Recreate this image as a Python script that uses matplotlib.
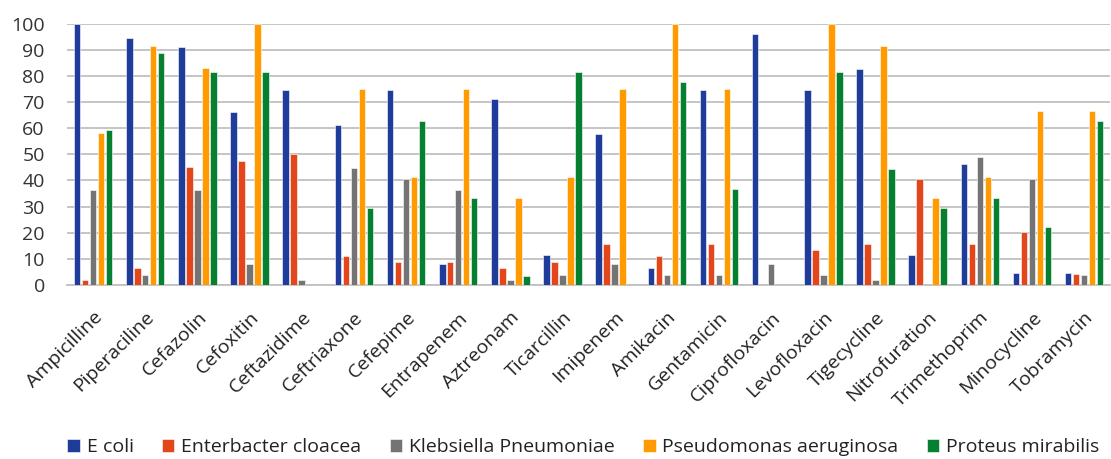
import matplotlib.pyplot as plt
import numpy as np

drugs = ["Ampicilline", "Piperaciline", "Cefazolin", "Cefoxitin", "Ceftazidime",
         "Ceftriaxone", "Cefepime", "Entrapenem", "Aztreonam", "Ticarcillin",
         "Imipenem", "Amikacin", "Gentamicin", "Ciprofloxacin", "Levofloxacin",
         "Tigecycline", "Nitrofuration", "Trimethoprim", "Minocycline", "Tobramycin"]

e_coli = [100, 94.5, 91.2, 66.2, 74.6, 61.3, 74.6, 7.9, 71.3, 11.5,
          58.0, 6.3, 74.6, 96.2, 74.6, 82.8, 11.5, 46.4, 4.6, 4.6]
enterobacter = [1.9, 6.5, 45.3, 47.4, 50.0, 11.0, 8.8, 8.8, 6.5, 8.8,
                15.6, 11.0, 15.6, 0, 13.4, 15.6, 40.6, 15.6, 20.2, 4.2]
klebsiella = [36.5, 3.7, 36.5, 8.1, 1.7, 44.6, 40.6, 36.5, 1.7, 3.7,
              7.9, 3.7, 3.7, 7.9, 3.7, 1.7, 0, 48.9, 40.6, 3.7]
pseudomonas = [58.3, 91.7, 83.2, 100, 0, 74.9, 41.4, 74.9, 33.2, 41.4,
               74.9, 100, 74.9, 0, 100, 91.7, 33.2, 41.4, 66.6, 66.6]
proteus = [59.2, 88.7, 81.4, 81.4, 0, 29.3, 62.7, 33.2, 3.5, 81.4,
           0, 77.6, 36.9, 0, 81.4, 44.3, 29.3, 33.2, 22.0, 62.7]

series = [
    ("E coli", e_coli, "#203C9A"),
    ("Enterbacter cloacea", enterobacter, "#E2461A"),
    ("Klebsiella Pneumoniae", klebsiella, "#747474"),
    ("Pseudomonas aeruginosa", pseudomonas, "#FF9A00"),
    ("Proteus mirabilis", proteus, "#048030"),
]

plt.rcParams["font.family"] = ["Open Sans", "DejaVu Sans"]

fig = plt.figure(figsize=(11.11, 4.59), dpi=100)
ax = fig.add_axes([0.0603, 0.3797, 0.939, 0.568])

x = np.arange(len(drugs))
step = 0.153
width = 0.125
for i, (name, vals, color) in enumerate(series):
    ax.bar(x + (i - 2) * step, vals, width=width, color=color,
           edgecolor="white", linewidth=0.4, label=name, zorder=3)

ax.set_xlim(-0.5, len(drugs) - 0.5)
ax.set_ylim(0, 100)
ax.set_yticks(np.arange(0, 101, 10))
ax.tick_params(axis="y", length=0, labelsize=14, colors="#333333", pad=16)
ax.tick_params(axis="x", length=0, pad=17)
ax.set_xticks(x)
ax.set_xticklabels(drugs, rotation=45, ha="right", rotation_mode="anchor",
                   fontsize=14, color="#222222")
ax.grid(axis="y", color="#C0C0C0", linewidth=1.3, zorder=0)
for side in ["top", "right", "left"]:
    ax.spines[side].set_visible(False)
ax.spines["bottom"].set_color("#C0C0C0")
ax.spines["bottom"].set_linewidth(1.3)

fig.legend(loc="lower center", bbox_to_anchor=(0.525, -0.032), ncol=5,
           frameon=False, fontsize=14, handlelength=0.65, handleheight=0.65,
           handletextpad=0.35, columnspacing=1.45, labelcolor="#222222")

fig.savefig("out.png", dpi=100)
